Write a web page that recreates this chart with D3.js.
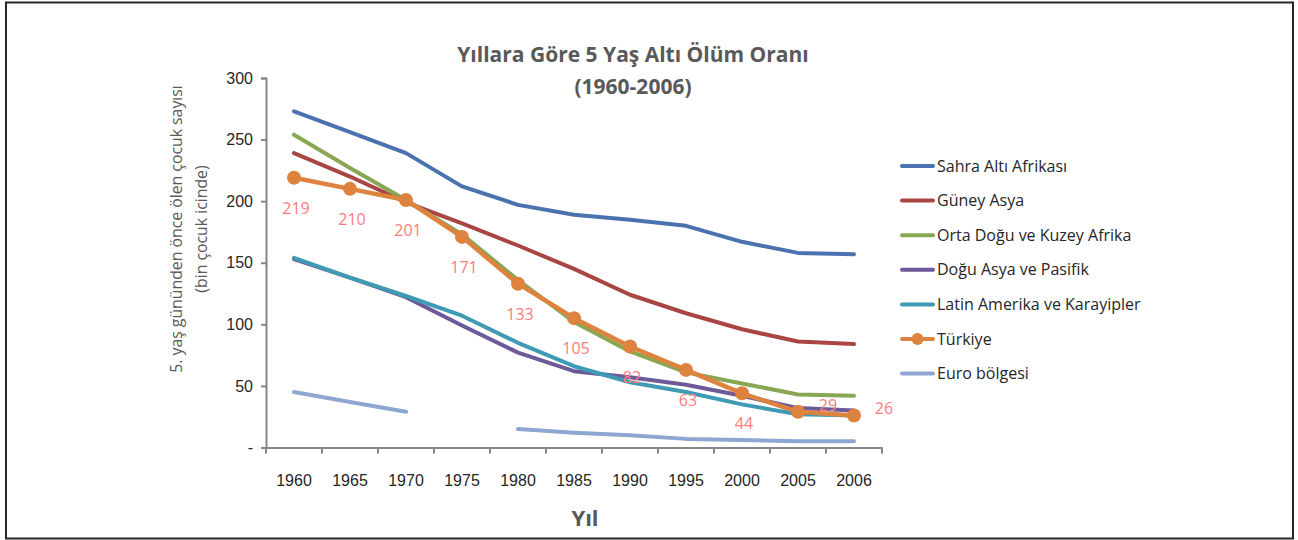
<!DOCTYPE html>
<html>
<head>
<meta charset="utf-8">
<script src="https://cdn.jsdelivr.net/npm/d3@7"></script>
<style>
  body { margin: 0; background: #fff; }
  svg { display: block; font-family: "Open Sans", Lato, sans-serif; }
  .tick-label { font-size: 16px; fill: #262626; }
  .legend-label { font-size: 16px; fill: #262626; }
  .title { font-size: 21px; font-weight: bold; fill: #595959; }
  .axis-title { font-size: 15.8px; fill: #595959; }
  .data-label { font-size: 16px; fill: #ff7c80; }
</style>
</head>
<body>
<div class="chart"></div>
<script>
const years = ["1960", "1965", "1970", "1975", "1980", "1985", "1990", "1995", "2000", "2005", "2006"]
const yTicks = [0, 50, 100, 150, 200, 250, 300]

const sahra = [273, 256, 239, 212, 197, 189, 185, 180, 167, 158, 157]
const guney = [239, 220, 199, 182, 164, 145, 124, 109, 96, 86, 84]
const ortaDogu = [254, 227, 201, 173, 136, 102, 78, 61, 52, 43, 42]
const doguAsya = [153, 138, 122, 99, 77, 62, 57, 51, 42, 32, 30]
const latin = [154, 138, 123, 107, 85, 66, 53, 45, 35, 27, 26]
const turkiye = [219, 210, 201, 171, 133, 105, 82, 63, 44, 29, 26]
const euro = [45, 37, 29, null, 15, 12, 10, 7, 6, 5, 5]

const seriesNames = ["Sahra Altı Afrikası", "Güney Asya", "Orta Doğu ve Kuzey Afrika", "Doğu Asya ve Pasifik", "Latin Amerika ve Karayipler", "Türkiye", "Euro bölgesi"]
const seriesValues = [sahra, guney, ortaDogu, doguAsya, latin, turkiye, euro]
const colors = ["#4a72ae", "#a94643", "#89a652", "#6e5a99", "#3f9ab3", "#dd833f", "#8ea6d2"]

const width = 1298
const height = 540

let svg = d3.select(".chart").append("svg")
    .attr("width", width)
    .attr("height", height)

// outer frame
svg.append("rect")
    .attr("x", 6)
    .attr("y", 2.5)
    .attr("width", 1287)
    .attr("height", 536)
    .attr("fill", "none")
    .attr("stroke", "#262626")
    .attr("stroke-width", 2)

let x = d3.scaleBand()
    .domain(years)
    .range([266, 882])

let y = d3.scaleLinear()
    .domain([0, 300])
    .range([447.5, 78])

let xc = function(yr){ return x(yr) + x.bandwidth() / 2 }

// title
svg.append("text")
    .attr("class", "title")
    .attr("x", 633)
    .attr("y", 62)
    .attr("text-anchor", "middle")
    .text("Yıllara Göre 5 Yaş Altı Ölüm Oranı")

svg.append("text")
    .attr("class", "title")
    .attr("x", 633)
    .attr("y", 94)
    .attr("text-anchor", "middle")
    .text("(1960-2006)")

// y axis
let yAxis = svg.append("g")
    .attr("transform", "translate(266,0)")
    .call(d3.axisLeft(y).tickValues(yTicks).tickSize(5).tickPadding(8)
        .tickFormat(function(d){ return d == 0 ? "-" : d }))

yAxis.select(".domain").attr("stroke", "#868686").attr("stroke-width", 2)
yAxis.selectAll(".tick line").attr("stroke", "#868686").attr("stroke-width", 2)
yAxis.selectAll(".tick text").attr("class", "tick-label").attr("font-family", null).attr("font-size", null)

// x axis
let xAxis = svg.append("g")
    .attr("transform", "translate(0," + y(0) + ")")
    .call(d3.axisBottom(x).tickSize(0).tickPadding(27))

xAxis.select(".domain").attr("stroke", "#868686").attr("stroke-width", 2)
xAxis.selectAll(".tick text").attr("class", "tick-label").attr("font-family", null).attr("font-size", null)

// category boundary ticks
xAxis.selectAll("line.bound")
    .data(years.concat(["end"]))
    .enter()
    .append("line")
    .attr("class", "bound")
    .attr("x1", function(d, i){ return x.range()[0] + i * x.step() })
    .attr("x2", function(d, i){ return x.range()[0] + i * x.step() })
    .attr("y1", 0)
    .attr("y2", 6)
    .attr("stroke", "#868686")
    .attr("stroke-width", 2)

// axis titles
svg.append("text")
    .attr("x", 585)
    .attr("y", 526)
    .attr("text-anchor", "middle")
    .style("font-size", "22px")
    .style("font-weight", "bold")
    .style("fill", "#595959")
    .text("Yıl")

let yTitle = svg.append("text")
    .attr("class", "axis-title")
    .attr("transform", "translate(182,229) rotate(-90)")
    .attr("text-anchor", "middle")

yTitle.append("tspan").attr("x", 0).attr("y", 0).text("5. yaş gününden önce ölen çocuk sayısı")
yTitle.append("tspan").attr("x", 0).attr("y", 25).text("(bin çocuk icinde)")

// lines
let line = d3.line()
    .defined(function(d){ return d != null })
    .x(function(d, i){ return xc(years[i]) })
    .y(function(d){ return y(d) })

seriesValues.forEach(function(vals, s){
    svg.append("path")
        .attr("d", line(vals))
        .attr("fill", "none")
        .attr("stroke", colors[s])
        .attr("stroke-width", s == 5 ? 4.5 : 4)
        .attr("stroke-linejoin", "round")
        .attr("stroke-linecap", "round")

    if (s == 5){
        svg.selectAll("circle.tr")
            .data(vals)
            .enter()
            .append("circle")
            .attr("class", "tr")
            .attr("cx", function(d, i){ return xc(years[i]) })
            .attr("cy", function(d){ return y(d) })
            .attr("r", 7)
            .attr("fill", colors[s])
    }
})

// Turkey data labels
svg.selectAll("text.data-label")
    .data(turkiye)
    .enter()
    .append("text")
    .attr("class", "data-label")
    .attr("text-anchor", "middle")
    .attr("x", function(d, i){ return xc(years[i]) + (i >= 9 ? 30 : 2) })
    .attr("y", function(d, i){ return y(d) + (i >= 9 ? -1 : 36) })
    .text(function(d){ return d })

// legend
let legend = svg.append("g")
    .attr("transform", "translate(902,166)")

seriesNames.forEach(function(name, i){
    let row = legend.append("g")
        .attr("transform", "translate(0," + (i * 34.6) + ")")

    row.append("line")
        .attr("x1", 0)
        .attr("x2", 31)
        .attr("stroke", colors[i])
        .attr("stroke-width", 4)
        .attr("stroke-linecap", "round")

    if (i == 5){
        row.append("circle")
            .attr("cx", 15.5)
            .attr("r", 6)
            .attr("fill", colors[i])
    }

    row.append("text")
        .attr("class", "legend-label")
        .attr("x", 35)
        .attr("y", 5.5)
        .text(name)
})
</script>
</body>
</html>
